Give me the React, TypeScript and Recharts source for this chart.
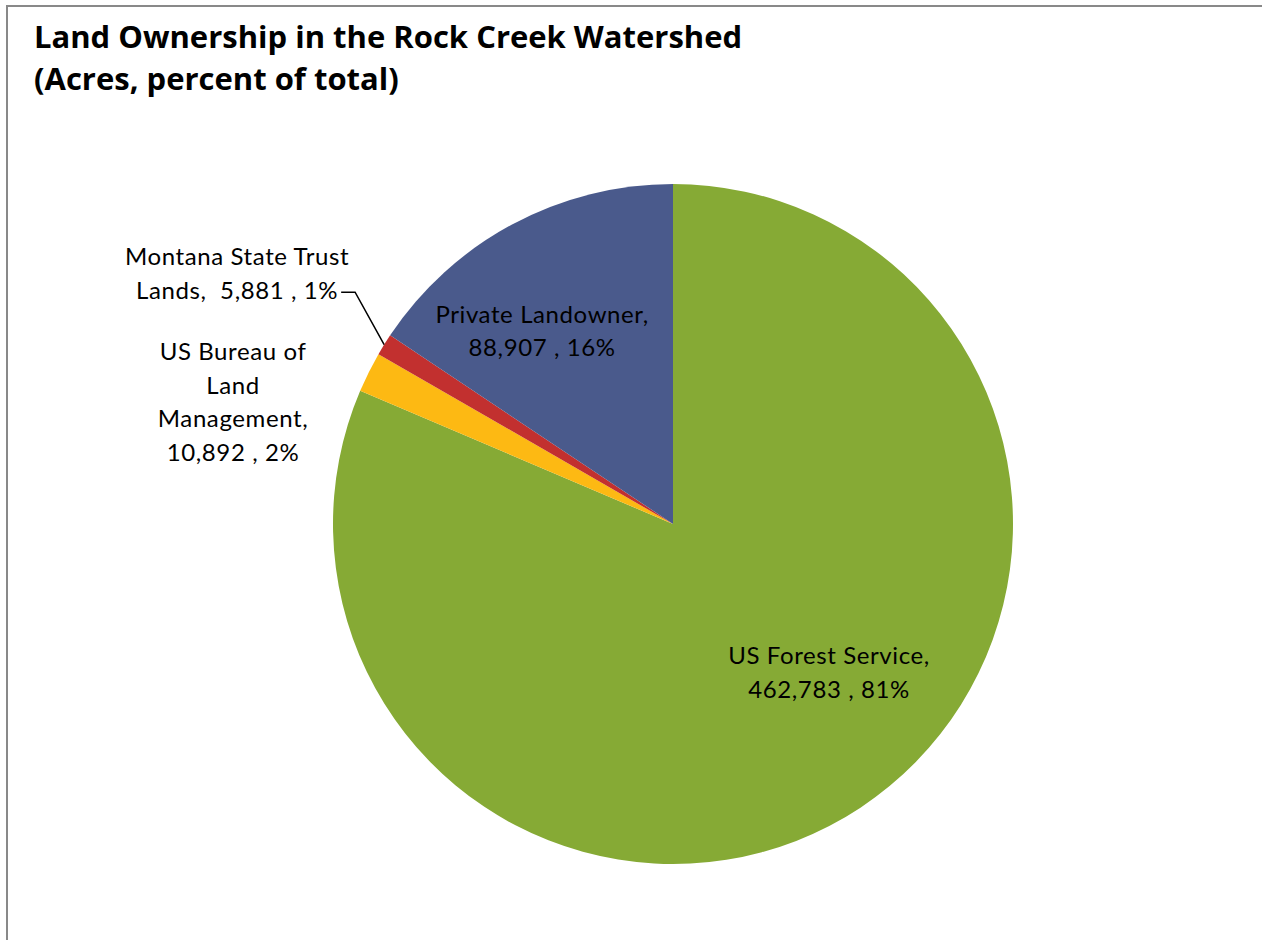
import React from 'react';
import { PieChart, Pie, Cell } from 'recharts';

const categories = ['US Forest Service', 'US Bureau of Land Management', 'Montana State Trust Lands', 'Private Landowner'];
const acres = [462783, 10892, 5881, 88907];
const colors = ['#86AA35', '#FDB913', '#C2302F', '#4A5A8C'];
// label text lines (category wrapped as in the original)
const nameLines: string[][] = [
  ['US Forest Service,'],
  ['US Bureau of', 'Land', 'Management,'],
  ['Montana State Trust'],
  ['Private Landowner,'],
];
const valuePrefix = ['', '', 'Lands,  ', ''];

const data = categories.map((name, i) => ({ name, value: acres[i] }));
const total = acres.reduce((a, b) => a + b, 0);

// label centers relative to pie center, as fractions of the outer radius
const labelPos = [
  { dx: 0.459, dy: 0.434 },
  { dx: -1.294, dy: -0.362 },
  { dx: -1.282, dy: -0.74 },
  { dx: -0.385, dy: -0.571 },
];
const LINE = 33.5;
const FONT = 'Lato, "Noto Sans", sans-serif';

const renderLabel = (props: any) => {
  const { cx, cy, outerRadius, index, midAngle } = props;
  const R = outerRadius;
  const pct = Math.round((acres[index] / total) * 100);
  const lines = [...nameLines[index]];
  lines.push(`${valuePrefix[index]}${acres[index].toLocaleString('en-US')} , ${pct}%`);
  const x = cx + labelPos[index].dx * R;
  const yc = cy + labelPos[index].dy * R;
  const y0 = yc - ((lines.length - 1) * LINE) / 2;
  let leader = null;
  if (index === 2) {
    const rad = (midAngle * Math.PI) / 180;
    const sx = cx + R * Math.cos(rad);
    const sy = cy - R * Math.sin(rad);
    const ey = y0 + LINE + 3;
    const ex = cx - 0.935 * R;
    const hx = cx - 0.976 * R;
    leader = (
      <polyline points={`${sx},${sy} ${ex},${ey} ${hx},${ey}`} fill="none" stroke="#000" strokeWidth={1.5} />
    );
  }
  return (
    <g key={`lbl-${index}`}>
      {leader}
      <text x={x} y={y0} textAnchor="middle" fontFamily={FONT} fontSize={24} letterSpacing={0.6} fill="#000">
        {lines.map((l, k) => (
          <tspan key={k} x={x} y={y0 + k * LINE} dominantBaseline="central" style={{ whiteSpace: 'pre' }}>
            {l}
          </tspan>
        ))}
      </text>
    </g>
  );
};

export default function App() {
  return (
    <div style={{ position: 'absolute', left: 0, top: 0, width: 1262, height: 940, overflow: 'hidden', background: '#fff' }}>
      <div style={{ position: 'absolute', left: 6, top: 5, width: 1300, height: 1000, border: '2px solid #898989', boxSizing: 'border-box' }} />
      <div
        style={{
          position: 'absolute',
          left: 34,
          top: 15,
          fontFamily: '"Open Sans", Lato, sans-serif',
          fontWeight: 700,
          fontSize: 31,
          lineHeight: '42px',
          color: '#000',
          whiteSpace: 'nowrap',
        }}
      >
        <div>Land Ownership in the Rock Creek Watershed</div>
        <div>(Acres, percent of total)</div>
      </div>
      <div style={{ position: 'absolute', left: 0, top: 0 }}>
        <PieChart width={1262} height={940} margin={{ top: 0, right: 0, bottom: 0, left: 0 }}>
          <Pie
            data={data}
            dataKey="value"
            nameKey="name"
            cx={673}
            cy={524}
            outerRadius={340}
            startAngle={90}
            endAngle={-270}
            stroke="none"
            isAnimationActive={false}
            labelLine={false}
            label={renderLabel}
          >
            {data.map((d, i) => (
              <Cell key={d.name} fill={colors[i]} />
            ))}
          </Pie>
        </PieChart>
      </div>
    </div>
  );
}
